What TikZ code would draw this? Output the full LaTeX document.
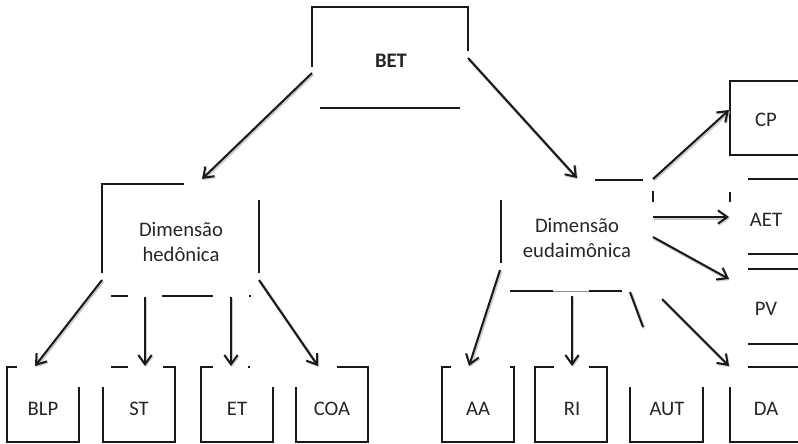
\documentclass[tikz,border=0pt]{standalone}
\usepackage{fontspec}
\setmainfont{Carlito}
\usetikzlibrary{arrows.meta}
\begin{document}
\begin{tikzpicture}[x=0.75pt,y=-0.75pt,
  frag/.style={line width=1.6pt, draw=black!90, line cap=butt},
  thin/.style={line width=0.4pt, draw=black!45},
  arr/.style={line width=1.5pt, draw=black!90,
     -{Straight Barb[length=7pt,width=10pt,line width=1.5pt]},
     preaction={draw=black!20, line width=2.3pt,
       transform canvas={shift={(0.7pt,-0.9pt)}}}},
  line/.style={line width=1.5pt, draw=black!90,
     preaction={draw=black!20, line width=2.3pt,
       transform canvas={shift={(0.7pt,-0.9pt)}}}},
  lbl/.style={font=\fontsize{15.5}{18.75}\selectfont, text=black!85, align=center, inner sep=0pt}]
\useasboundingbox (0,0) rectangle (798,443);
\clip (0,0) rectangle (798,443);

% ---------- text nodes ----------
\node[lbl, font=\fontsize{15.5}{18.75}\selectfont\bfseries] (bet) at (391,61) {BET};
\node[lbl] (hed) at (181,242) {Dimensão\\hedônica};
\node[lbl] (eud) at (577,238) {Dimensão\\eudaimônica};
\node[lbl] (blp) at (43,409) {BLP};
\node[lbl] (st)  at (139,409) {ST};
\node[lbl] (et)  at (237,409) {ET};
\node[lbl] (coa) at (332,409) {COA};
\node[lbl] (aa)  at (478,409) {AA};
\node[lbl] (ri)  at (572,409) {RI};
\node[lbl] (aut) at (667,409) {AUT};
\node[lbl] (da)  at (766,409) {DA};
\node[lbl] (cp)  at (766,120) {CP};
\node[lbl] (aet) at (766,220) {AET};
\node[lbl] (pv)  at (766,309) {PV};

% ---------- box fragments ----------
% BET
\draw[frag] (312,67) -- (312,7) -- (468,7) -- (468,51);
\draw[frag] (320,108) -- (460,108);
% hedonic
\draw[frag] (102,273) -- (102,184) -- (184,184);
\draw[frag] (259,200) -- (259,273);
\draw[frag] (111,296) -- (128,296);
\draw[frag] (162,296) -- (213,296);
\draw[frag] (249,296) -- (251,296);
% eudaimonic
\draw[frag] (501,200) -- (501,263);
\draw[frag] (595,180) -- (643,180);
\draw[frag] (653,191) -- (653,202);
\draw[frag] (510,291) -- (553,291);
\draw[thin] (553,291) -- (589,291);
\draw[frag] (589,291) -- (622,291);
% bottom row left
\draw[frag] (17,367) -- (7,367) -- (7,442) -- (79,442) -- (79,387);
\draw[frag] (103,387) -- (103,442) -- (175,442) -- (175,367) -- (163,367);
\draw[frag] (111,367) -- (128,367);
\draw[frag] (213,367) -- (201,367) -- (201,442) -- (273,442) -- (273,387);
\draw[frag] (248,367) -- (250,367);
\draw[frag] (296,387) -- (296,442) -- (368,442) -- (368,367) -- (337,367);
% bottom row right
\draw[frag] (451,367) -- (442,367) -- (442,442) -- (514,442) -- (514,367) -- (510,367);
\draw[frag] (554,367) -- (535,367) -- (535,442) -- (607,442) -- (607,367) -- (589,367);
\draw[frag] (630,387) -- (630,442) -- (703,442) -- (703,387);
\draw[frag] (730,387) -- (730,442) -- (805,442);
% right column
\draw[frag] (805,81) -- (730,81) -- (730,155) -- (805,155);
\draw[frag] (748,179) -- (805,179);
\draw[frag] (730,192) -- (730,202);
\draw[frag] (748,254) -- (805,254);
\draw[frag] (748,269) -- (805,269);
\draw[frag] (748,344) -- (805,344);
\draw[frag] (748,367) -- (805,367);

% ---------- connector end points ----------
\coordinate (betL) at (312,73);   \coordinate (hedT) at (202,179);
\coordinate (betR) at (468,58);   \coordinate (eudT) at (577,178);
\coordinate (hedA) at (102,280);  \coordinate (blpT) at (35,366);
\coordinate (hedB) at (145,297);  \coordinate (stT)  at (145,366);
\coordinate (hedC) at (231,297);  \coordinate (etT)  at (231,366);
\coordinate (hedD) at (259,280);  \coordinate (coaT) at (318,366);
\coordinate (eudA) at (500,270);  \coordinate (aaT)  at (469,366);
\coordinate (eudB) at (572,296);  \coordinate (riT)  at (572,366);
\coordinate (eudC) at (630,292);  \coordinate (autT) at (643,327);
\coordinate (eudD) at (662,299);  \coordinate (daT)  at (729,366);
\coordinate (eudE) at (653,179);  \coordinate (cpL)  at (729,110);
\coordinate (eudF) at (653,217);  \coordinate (aetL) at (729,217);
\coordinate (eudG) at (653,237);  \coordinate (pvL)  at (729,279);

% ---------- connectors ----------
\draw[arr] (betL) -- (hedT);
\draw[arr] (betR) -- (eudT);
\draw[arr] (hedA) -- (blpT);
\draw[arr] (hedB) -- (stT);
\draw[arr] (hedC) -- (etT);
\draw[arr] (hedD) -- (coaT);
\draw[arr] (eudA) -- (aaT);
\draw[arr] (eudB) -- (riT);
\draw[line] (eudC) -- (autT);
\draw[arr] (eudD) -- (daT);
\draw[arr] (eudE) -- (cpL);
\draw[arr] (eudF) -- (aetL);
\draw[arr] (eudG) -- (pvL);
\end{tikzpicture}
\end{document}
